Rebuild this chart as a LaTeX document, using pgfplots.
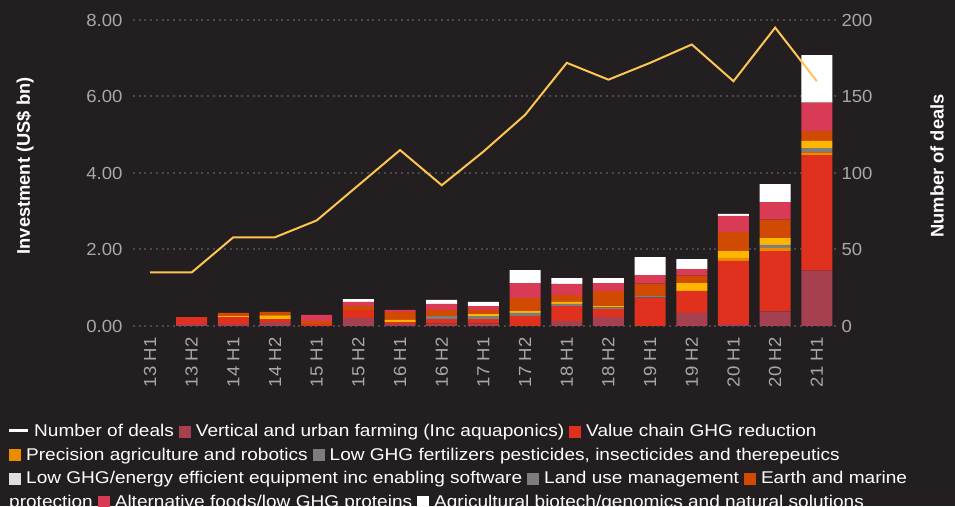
\documentclass[border=0pt]{standalone}
\usepackage{fontspec}
\setmainfont{Liberation Sans}
\newfontfamily\legfont{Liberation Sans}[FakeStretch=1.12]
\newfontfamily\tickfont{Liberation Sans}[FakeStretch=1.06]
\usepackage{pgfplots}
\usepackage{pgfplotstable}
\pgfplotsset{compat=1.18}
\definecolor{bg}{HTML}{231F20}
\definecolor{cV}{HTML}{A4404F}
\definecolor{cC}{HTML}{E0301E}
\definecolor{cP}{HTML}{EB8C00}
\definecolor{cF}{HTML}{7D7D7D}
\definecolor{cY}{HTML}{FFB600}
\definecolor{cYleg}{HTML}{DEDEDE}
\definecolor{cL}{HTML}{7D7D7D}
\definecolor{cE}{HTML}{D04A02}
\definecolor{cA}{HTML}{D93A56}
\definecolor{cB}{HTML}{FFFFFF}
\definecolor{lineyel}{HTML}{FDC652}
\definecolor{tickgray}{HTML}{A8A8A8}
\definecolor{gridgray}{HTML}{4A4A4A}
\definecolor{axisgray}{HTML}{454545}

\pgfplotstableread{
idx V C P F Y L E A B
0 0 0 0 0 0 0 0 0 0
1 0.05 0.18 0 0 0 0 0 0 0
2 0.05 0.18 0 0 0.03 0 0.08 0 0
3 0.10 0.08 0 0 0.10 0 0.09 0 0
4 0 0.05 0 0 0 0 0.08 0.16 0
5 0.21 0.21 0 0 0 0 0.10 0.11 0.07
6 0.05 0.05 0 0 0.06 0 0.21 0.05 0
7 0.06 0.12 0 0.08 0 0 0.16 0.16 0.10
8 0.06 0.12 0 0.08 0.05 0 0.11 0.10 0.11
9 0 0.26 0 0.08 0.05 0 0.34 0.39 0.34
10 0.13 0.39 0 0.06 0.05 0 0.18 0.29 0.15
11 0.24 0.20 0 0.05 0.03 0 0.39 0.21 0.13
12 0 0.74 0 0.05 0 0 0.32 0.22 0.47
13 0.34 0.58 0 0 0.20 0 0.20 0.17 0.26
14 0.05 1.65 0.08 0 0.18 0 0.50 0.42 0.05
15 0.38 1.58 0.08 0.08 0.18 0 0.48 0.46 0.47
16 1.45 3.02 0.07 0.11 0.19 0 0.26 0.74 1.24
}\bars

\pgfplotstableread{
idx deals
0 35
1 35
2 58
3 58
4 69
5 92
6 115
7 92
8 114
9 138
10 172
11 161
12 172
13 184
14 160
15 195
16 160
}\deals

\newcommand{\mk}[1]{\hspace{5pt}\textcolor{#1}{\rule[-1pt]{12pt}{12pt}}\hspace{5pt}}

\begin{document}
\begin{tikzpicture}[x=1pt,y=1pt]
\path[use as bounding box, fill=bg] (0,0) rectangle (955,506);
\begin{axis}[
  at={(133pt,180pt)}, anchor=south west, scale only axis,
  width=703pt, height=306pt,
  xmin=-0.408, xmax=16.46, ymin=0, ymax=8,
  ybar stacked, bar width=31pt,
  axis line style={draw=none},
  major tick length=0pt,
  xtick={0,...,16},
  xticklabels={13 H1,13 H2,14 H1,14 H2,15 H1,15 H2,16 H1,16 H2,17 H1,17 H2,18 H1,18 H2,19 H1,19 H2,20 H1,20 H2,21 H1},
  xticklabel style={rotate=90, anchor=east, text=tickgray, font=\tickfont\fontsize{17.5}{18}\selectfont, xshift=-8pt},
  ytick={0,2,4,6,8},
  yticklabel style={text=tickgray, font=\tickfont\fontsize{17.5}{18}\selectfont, /pgf/number format/fixed, /pgf/number format/fixed zerofill, /pgf/number format/precision=2, xshift=-7pt},
  /pgf/number format/assume math mode=true,
  ymajorgrids,
  major grid style={gridgray, line width=2pt, dash pattern=on 2pt off 3.7pt},
  extra y ticks={0}, extra y tick labels={},
  extra y tick style={grid style={solid, axisgray, line width=2.5pt}},
  ylabel={\textbf{Investment (US\$ bn)}},
  every axis y label/.style={at={(axis description cs:-0.1536,0.523)}, rotate=90, anchor=center, text=white, font=\fontsize{18.3}{19}\selectfont},
]
\addplot[fill=cV, draw=none] table[x=idx, y=V] {\bars};
\addplot[fill=cC, draw=none] table[x=idx, y=C] {\bars};
\addplot[fill=cP, draw=none] table[x=idx, y=P] {\bars};
\addplot[fill=cF, draw=none] table[x=idx, y=F] {\bars};
\addplot[fill=cY, draw=none] table[x=idx, y=Y] {\bars};
\addplot[fill=cL, draw=none] table[x=idx, y=L] {\bars};
\addplot[fill=cE, draw=none] table[x=idx, y=E] {\bars};
\addplot[fill=cA, draw=none] table[x=idx, y=A] {\bars};
\addplot[fill=cB, draw=none] table[x=idx, y=B] {\bars};
\end{axis}
\begin{axis}[
  at={(133pt,180pt)}, anchor=south west, scale only axis,
  width=703pt, height=306pt,
  xmin=-0.408, xmax=16.46, ymin=0, ymax=200,
  axis y line*=right, hide x axis,
  y axis line style={draw=none},
  major tick length=0pt,
  ytick={0,50,100,150,200},
  yticklabel style={text=tickgray, font=\tickfont\fontsize{17.5}{18}\selectfont, xshift=2pt},
  /pgf/number format/assume math mode=true,
  ylabel={\textbf{Number of deals}},
  every axis y label/.style={at={(axis description cs:1.1437,0.523)}, rotate=90, anchor=center, text=white, font=\fontsize{18.3}{19}\selectfont},
]
\addplot[lineyel, line width=2pt, no markers, sharp plot] table[x=idx, y=deals] {\deals};
\end{axis}
\node[anchor=north west, align=left, text=white, inner sep=0pt, font=\legfont\fontsize{17}{23.5}\selectfont] at (9,82) {%
\textcolor{white}{\rule[5pt]{19pt}{3pt}}\hspace{6pt}Number of deals\mk{cV}Vertical and urban farming (Inc aquaponics)\mk{cC}Value chain GHG reduction\\
\textcolor{cP}{\rule[-1pt]{12pt}{12pt}}\hspace{5pt}Precision agriculture and robotics\mk{cF}Low GHG fertilizers pesticides, insecticides and therepeutics\\
\textcolor{cYleg}{\rule[-1pt]{12pt}{12pt}}\hspace{5pt}Low GHG/energy efficient equipment inc enabling software\mk{cL}Land use management\mk{cE}Earth and marine\\
protection\mk{cA}Alternative foods/low GHG proteins\mk{cB}Agricultural biotech/genomics and natural solutions};
\end{tikzpicture}
\end{document}
